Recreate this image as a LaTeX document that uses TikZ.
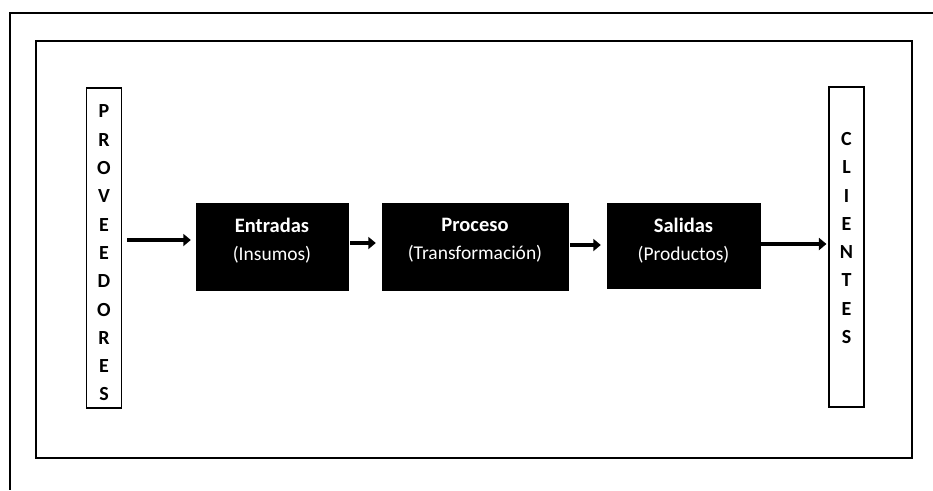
\documentclass[tikz,border=0pt]{standalone}
\usepackage{fontspec}
\setmainfont{Carlito}
\usetikzlibrary{arrows.meta}
\begin{document}
\begin{tikzpicture}[x=1pt,y=-1pt,
  stage/.style={draw=black,fill=black,inner sep=0pt},
  stagetext/.style={text=white,inner sep=0pt,align=center,
    font=\fontsize{19.5}{28}\selectfont},
  side/.style={draw=black,line width=1.1pt,minimum width=35pt,minimum height=320pt,
    inner sep=0pt},
  letters/.style={align=center,inner sep=0pt,font=\bfseries\fontsize{20}{28.3}\selectfont},
  flow/.style={line width=4.4pt,-{Triangle[length=7.5pt,width=12pt]}}]
\useasboundingbox (0,0) rectangle (933,490);
% outer frame (top and left edges)
\draw[line width=1.3pt] (933,13) -- (10,13) -- (10,490);
% inner frame
\draw[line width=2pt] (36,41) rectangle (912,458);
% suppliers and customers columns
\node[side] (prov) at (104,248) {};
\node[letters] at ([yshift=-5pt]prov.center) {P\\R\\O\\V\\E\\E\\D\\O\\R\\E\\S};
\node[side] (cli) at (846.5,247) {};
\node[letters] at ([yshift=9pt]cli.center) {C\\L\\I\\E\\N\\T\\E\\S};
% process stages
\node[stage,minimum width=152pt,minimum height=87pt] (ent) at (272,246.5) {};
\node[stagetext] at ([yshift=6pt]ent.center)
  {{\fontsize{20.5}{28}\selectfont\bfseries Entradas}\\(Insumos)};
\node[stage,minimum width=186pt,minimum height=87pt] (proc) at (475,246.5) {};
\node[stagetext] at ([yshift=6pt]proc.center)
  {{\fontsize{20.5}{28}\selectfont\bfseries Proceso}\\(Transformación)};
\node[stage,minimum width=153pt,minimum height=85pt] (sal) at (683.5,245.5) {};
\node[stagetext] at ([yshift=5pt]sal.center)
  {{\fontsize{20.5}{28}\selectfont\bfseries Salidas}\\(Productos)};
% flow arrows
\draw[flow,shorten <=5pt,shorten >=5pt] ([yshift=8pt]prov.east) -- ([yshift=6.5pt]ent.west);
\draw[flow,shorten <=2pt,shorten >=6pt] ([yshift=3.5pt]ent.east) -- ([yshift=3.5pt]proc.west);
\draw[flow,shorten <=2pt,shorten >=6pt] ([yshift=1.5pt]proc.east) -- ([yshift=0.5pt]sal.west);
\draw[flow,shorten >=2pt] ([yshift=1.5pt]sal.east) -- ([yshift=3pt]cli.west);
\end{tikzpicture}
\end{document}
